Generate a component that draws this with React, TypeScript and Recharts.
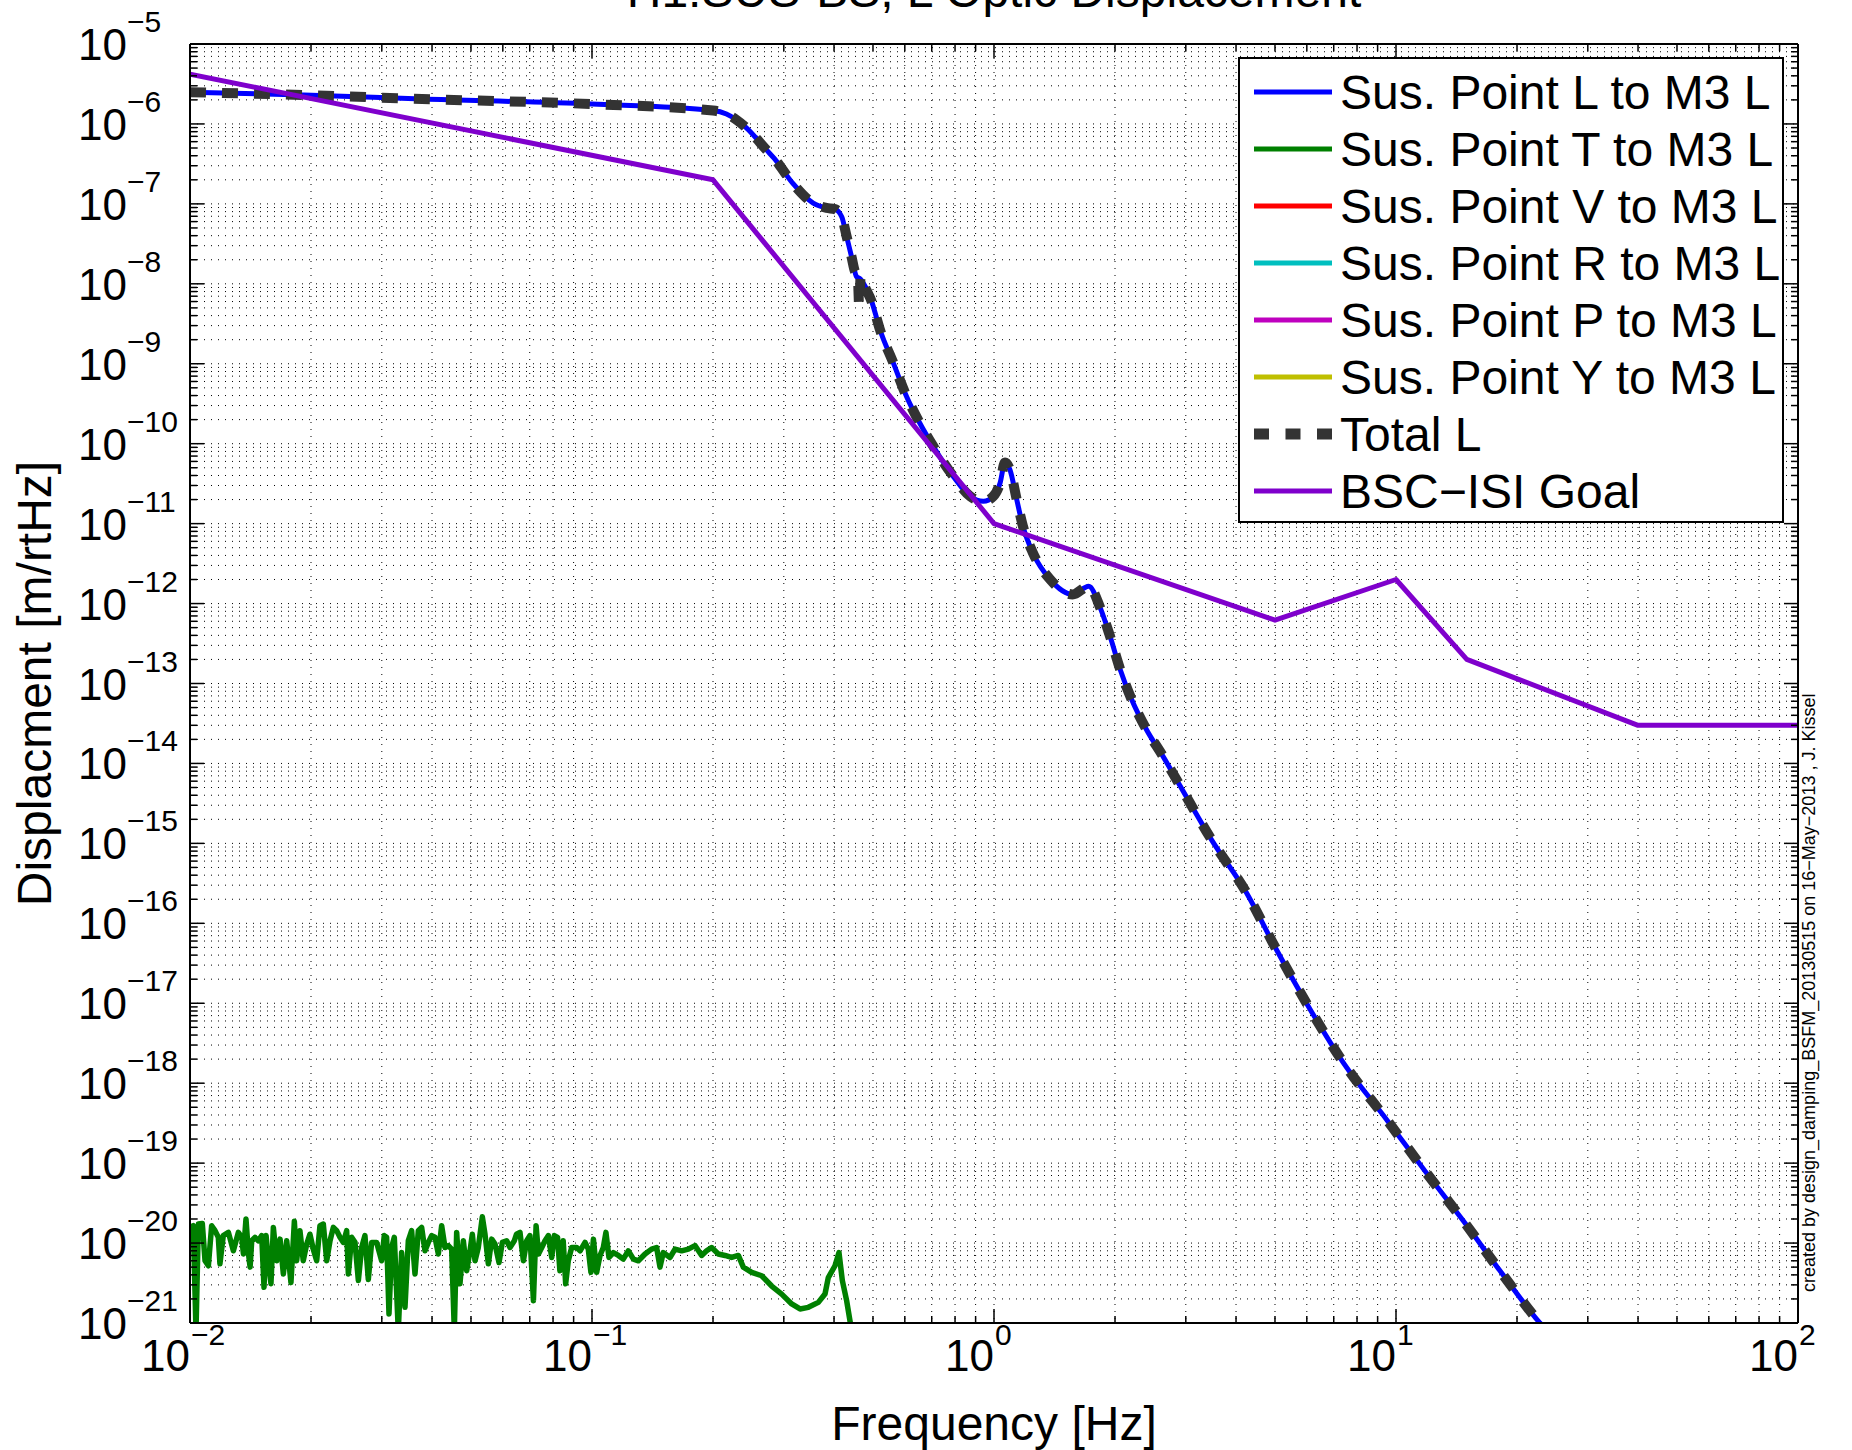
import React from 'react';
import { LineChart, Line, XAxis, YAxis, CartesianGrid, Legend, Label } from 'recharts';

const FONT = '"Liberation Sans", Arial, Helvetica, sans-serif';

// log axes: decades carrying a label, and the minor steps inside each decade
const xDecades = [-2, -1, 0, 1, 2];
const yDecades = [-21, -20, -19, -18, -17, -16, -15, -14, -13, -12, -11, -10, -9, -8, -7, -6, -5];
const minorSteps = [2, 3, 4, 5, 6, 7, 8, 9];

// Sus. Point L to M3 L
const susLFreq = [
  0.01, 0.0192, 0.0378, 0.1, 0.2, 0.216, 0.229, 0.241, 0.272, 0.284, 0.316, 0.355, 0.383, 0.402,
  0.418, 0.43, 0.442, 0.455, 0.465, 0.473, 0.498, 0.52, 0.562, 0.606, 0.654, 0.706, 0.792, 0.872,
  0.941, 0.996, 1.035, 1.065, 1.096, 1.139, 1.18, 1.25, 1.38, 1.57, 1.72, 1.84, 1.95, 2.06, 2.2,
  2.39, 2.64, 2.9, 3.48, 4.25, 5.04, 6.05, 7.4, 9.48, 11.8, 14.7, 18.2, 22.8, 25,
];
const susLDisp = [
  2.5e-6, 2.3e-6, 2.05e-6, 1.77e-6, 1.47e-6, 1.33e-6, 1.12e-6, 9.1e-7, 4.7e-7, 3.7e-7, 1.8e-7,
  1.02e-7, 8.9e-8, 8.6e-8, 6.9e-8, 3.9e-8, 2.2e-8, 1.23e-8, 1.15e-8, 1.02e-8, 5.7e-9, 2.7e-9,
  1.02e-9, 3.9e-10, 1.8e-10, 9.3e-11, 3.9e-11, 2.2e-11, 1.9e-11, 2.2e-11, 3.2e-11, 5.8e-11,
  4.7e-11, 2e-11, 9.3e-12, 4.3e-12, 2e-12, 1.3e-12, 1.65e-12, 8.7e-13, 3.7e-13, 1.5e-13, 6.3e-14,
  2.7e-14, 1.2e-14, 5.3e-15, 1.1e-15, 2.4e-16, 4.7e-17, 9.2e-18, 1.8e-18, 3.5e-19, 8e-20, 1.9e-20,
  4.4e-21, 1e-21, 6e-22,
];

// Sus. Point T to M3 L (noisy, mostly near 1e-20)
const susTFreq = [
  0.01, 0.01019, 0.01035, 0.01049, 0.01073, 0.0109, 0.01111, 0.01132, 0.01154, 0.01176, 0.01187,
  0.0121, 0.01246, 0.01282, 0.01319, 0.01345, 0.01358, 0.01378, 0.01397, 0.01411, 0.01424, 0.01451,
  0.01479, 0.01508, 0.01528, 0.01546, 0.01566, 0.0159, 0.01612, 0.01643, 0.01675, 0.01707, 0.0174,
  0.01783, 0.01818, 0.01842, 0.01877, 0.01913, 0.01951, 0.01988, 0.02026, 0.02066, 0.02105,
  0.02146, 0.02188, 0.0223, 0.02273, 0.02317, 0.02361, 0.02407, 0.02453, 0.02477, 0.02524, 0.02573,
  0.02623, 0.02673, 0.02724, 0.02777, 0.0283, 0.02912, 0.02997, 0.03043, 0.03084, 0.03126, 0.03174,
  0.03223, 0.03297, 0.03361, 0.03426, 0.03492, 0.03559, 0.03628, 0.03698, 0.03769, 0.03842,
  0.03916, 0.03991, 0.04068, 0.04147, 0.04227, 0.04308, 0.04391, 0.04476, 0.04545, 0.04606,
  0.04695, 0.04786, 0.04878, 0.04972, 0.05039, 0.05117, 0.05214, 0.05336, 0.05418, 0.05523, 0.0563,
  0.05738, 0.05871, 0.05984, 0.06134, 0.06252, 0.0641, 0.0649, 0.0662, 0.0675, 0.0688, 0.0701,
  0.0715, 0.0726, 0.0736, 0.075, 0.0764, 0.0779, 0.0794, 0.0806, 0.0821, 0.0832, 0.0848, 0.086,
  0.0873, 0.089, 0.0916, 0.0934, 0.0961, 0.0979, 0.0994, 0.1008, 0.1027, 0.1047, 0.1067, 0.1083,
  0.1102, 0.113, 0.1163, 0.1196, 0.1231, 0.1268, 0.1304, 0.1355, 0.1407, 0.1448, 0.1476, 0.1504,
  0.1563, 0.1609, 0.1671, 0.1736, 0.1804, 0.1874, 0.1928, 0.1984, 0.2062, 0.2142, 0.2225, 0.2312,
  0.2379, 0.2496, 0.2643, 0.2799, 0.2964, 0.3139, 0.3292, 0.3452, 0.3656, 0.3798, 0.3871, 0.4022,
  0.4115, 0.4195, 0.43, 0.4424,
];
const susTDisp = [
  1.57e-20, 1.65e-20, 8e-22, 1.73e-20, 1.76e-20, 6e-21, 5.2e-21, 1.65e-20, 1.43e-20, 1.18e-20,
  5.5e-21, 1.24e-20, 1.36e-20, 8e-21, 1.36e-20, 1.18e-20, 7.3e-21, 2e-20, 7.6e-21, 5e-21, 1.07e-20,
  1.18e-20, 1.07e-20, 1.24e-20, 2.8e-21, 1.24e-20, 6e-21, 3.1e-21, 1.57e-20, 6e-21, 1.12e-20,
  4.1e-21, 1.07e-20, 3.2e-21, 1.87e-20, 6e-21, 1.43e-20, 6e-21, 9.7e-21, 1.29e-20, 8.4e-21, 6e-21,
  1.65e-20, 1.73e-20, 6e-21, 1.07e-20, 1.57e-20, 1.43e-20, 1.18e-20, 1.02e-20, 1.43e-20, 4.1e-21,
  1.18e-20, 1.02e-20, 3.4e-21, 8.8e-21, 1.24e-20, 3.5e-21, 1.02e-20, 1.02e-20, 6e-21, 1.24e-20,
  1.18e-20, 1.3e-21, 8.8e-21, 1.18e-20, 8e-22, 7.6e-21, 1.57e-21, 1.07e-20, 1.43e-20, 4.1e-21,
  1.43e-20, 1.57e-20, 8e-21, 1.02e-20, 1.24e-20, 1.18e-20, 7.3e-21, 1.65e-20, 8.8e-21, 9.3e-21,
  8.4e-21, 8e-22, 1.36e-20, 3.1e-21, 1.07e-20, 4.5e-21, 8e-21, 1.29e-20, 6e-21, 8.8e-21, 2.13e-20,
  1.29e-20, 5.5e-21, 1.12e-20, 9.7e-21, 5.7e-21, 1.02e-20, 1.07e-20, 8.8e-21, 1.07e-20, 1.29e-20,
  1.36e-20, 6e-21, 1.07e-20, 1.24e-20, 1.9e-21, 1.65e-20, 7.3e-21, 8.8e-21, 1.07e-20, 1.24e-20,
  6.6e-21, 1.24e-20, 1.18e-20, 4.5e-21, 1.07e-20, 3.1e-21, 6e-21, 8.8e-21, 8.8e-21, 8e-21,
  1.02e-20, 8.4e-21, 4.3e-21, 1.12e-20, 4.3e-21, 7e-21, 8.8e-21, 1.36e-20, 6.6e-21, 7.6e-21, 7e-21,
  6.3e-21, 8e-21, 6.3e-21, 6e-21, 7.3e-21, 8.4e-21, 8.8e-21, 5e-21, 7.6e-21, 6.6e-21, 8.4e-21,
  8e-21, 8.4e-21, 9.3e-21, 7e-21, 8e-21, 8.8e-21, 7.3e-21, 7e-21, 6.6e-21, 7e-21, 5e-21, 4.3e-21,
  3.9e-21, 2.9e-21, 2.3e-21, 1.73e-21, 1.5e-21, 1.57e-21, 1.81e-21, 2.3e-21, 3.7e-21, 5.2e-21,
  7.6e-21, 3.4e-21, 1.9e-21, 8e-22,
];

// V, R, P, Y couplings stay below the plotted range
const susVFreq: number[] = [];
const susVDisp: number[] = [];
const susRFreq: number[] = [];
const susRDisp: number[] = [];
const susPFreq: number[] = [];
const susPDisp: number[] = [];
const susYFreq: number[] = [];
const susYDisp: number[] = [];

// Total L
const totalFreq = [
  0.01, 0.0192, 0.0378, 0.1, 0.2, 0.216, 0.229, 0.241, 0.272, 0.284, 0.316, 0.355, 0.383, 0.402,
  0.418, 0.43, 0.442, 0.452, 0.458, 0.462, 0.466, 0.473, 0.498, 0.52, 0.562, 0.606, 0.654, 0.706,
  0.792, 0.872, 0.941, 0.996, 1.035, 1.065, 1.096, 1.139, 1.18, 1.25, 1.38, 1.57, 1.72, 1.84, 1.95,
  2.06, 2.2, 2.39, 2.64, 2.9, 3.48, 4.25, 5.04, 6.05, 7.4, 9.48, 11.8, 14.7, 18.2, 22.8, 25,
];
const totalDisp = [
  2.5e-6, 2.3e-6, 2.05e-6, 1.77e-6, 1.47e-6, 1.33e-6, 1.12e-6, 9.1e-7, 4.7e-7, 3.7e-7, 1.8e-7,
  1.02e-7, 8.9e-8, 8.6e-8, 6.9e-8, 3.9e-8, 2.2e-8, 1.4e-8, 1.35e-8, 5.2e-9, 1.25e-8, 1.02e-8,
  5.7e-9, 2.7e-9, 1.02e-9, 3.9e-10, 1.8e-10, 9.3e-11, 3.9e-11, 2.2e-11, 1.9e-11, 2.2e-11, 3.2e-11,
  5.8e-11, 4.7e-11, 2e-11, 9.3e-12, 4.3e-12, 2e-12, 1.3e-12, 1.65e-12, 8.7e-13, 3.7e-13, 1.5e-13,
  6.3e-14, 2.7e-14, 1.2e-14, 5.3e-15, 1.1e-15, 2.4e-16, 4.7e-17, 9.2e-18, 1.8e-18, 3.5e-19, 8e-20,
  1.9e-20, 4.4e-21, 1e-21, 6e-22,
];

// BSC-ISI Goal
const goalFreq = [0.01, 0.2, 1, 5, 10, 15, 40, 100];
const goalDisp = [4.2e-6, 2e-7, 1e-11, 6.2e-13, 2e-12, 2e-13, 3e-14, 3e-14];

const toPoints = (freq: number[], disp: number[]) => freq.map((f, i) => ({ f, v: disp[i] }));

const buildLogTicks = (decades: number[]) => {
  const ticks: number[] = [];
  decades.forEach((d, i) => {
    ticks.push(Math.pow(10, d));
    if (i < decades.length - 1) minorSteps.forEach((m) => ticks.push(m * Math.pow(10, d)));
  });
  return ticks;
};

const xTicks = buildLogTicks(xDecades);
const yTicks = buildLogTicks(yDecades);

const series = [
  { id: 'L', name: 'Sus. Point L to M3 L', color: '#0000ff', width: 5, curve: 'monotone', data: toPoints(susLFreq, susLDisp) },
  { id: 'T', name: 'Sus. Point T to M3 L', color: '#008000', width: 5.5, curve: 'linear', data: toPoints(susTFreq, susTDisp) },
  { id: 'V', name: 'Sus. Point V to M3 L', color: '#ff0000', width: 5, curve: 'linear', data: toPoints(susVFreq, susVDisp) },
  { id: 'R', name: 'Sus. Point R to M3 L', color: '#00bfbf', width: 5, curve: 'linear', data: toPoints(susRFreq, susRDisp) },
  { id: 'P', name: 'Sus. Point P to M3 L', color: '#bf00bf', width: 5, curve: 'linear', data: toPoints(susPFreq, susPDisp) },
  { id: 'Y', name: 'Sus. Point Y to M3 L', color: '#bfbf00', width: 5, curve: 'linear', data: toPoints(susYFreq, susYDisp) },
  { id: 'total', name: 'Total L', color: '#333333', width: 10, dash: '16 16', curve: 'monotone', data: toPoints(totalFreq, totalDisp) },
  { id: 'goal', name: 'BSC\u2212ISI Goal', color: '#7f00cc', width: 5, curve: 'linear', data: toPoints(goalFreq, goalDisp) },
];

const expText = (e: number) => (e < 0 ? '\u2212' + Math.abs(e) : String(e));

function LogTick(props: any) {
  const { x, y, payload, side } = props;
  const lg = Math.log10(payload.value);
  const e = Math.round(lg);
  const major = Math.abs(lg - e) < 1e-6;
  const len = major ? 14 : 7;
  let tick;
  if (side === 'bottom') tick = <line x1={x} y1={y} x2={x} y2={y - len} />;
  else if (side === 'top') tick = <line x1={x} y1={y} x2={x} y2={y + len} />;
  else if (side === 'left') tick = <line x1={x} y1={y} x2={x + len} y2={y} />;
  else tick = <line x1={x} y1={y} x2={x - len} y2={y} />;

  return (
    <g>
      <g stroke="#000" strokeWidth={1.5}>{tick}</g>
      {major && side === 'bottom' && (
        <g fontFamily={FONT} fill="#000">
          <text x={x} y={y + 48} fontSize={44} textAnchor="end">10</text>
          <text x={x + 1} y={y + 22} fontSize={30}>{expText(e)}</text>
        </g>
      )}
      {major && side === 'left' && (
        <text x={x - 112} y={y + 16} fontFamily={FONT} fill="#000">
          <tspan fontSize={44}>10</tspan>
          <tspan fontSize={30} dy={-28}>{expText(e)}</tspan>
        </text>
      )}
    </g>
  );
}

function LegendBox() {
  return (
    <svg width={546} height={466} style={{ display: 'block' }}>
      <rect x={1} y={1} width={544} height={464} fill="#fff" stroke="#000" strokeWidth={2} />
      {series.map((s, i) => {
        const cy = 35 + 57 * i;
        return (
          <g key={s.id}>
            <line
              x1={16}
              x2={94}
              y1={cy}
              y2={cy}
              stroke={s.color}
              strokeWidth={s.dash ? 11 : 5}
              strokeDasharray={s.dash ? '15 16.5' : undefined}
            />
            <text x={102} y={cy + 17} fontSize={48} fontFamily={FONT} fill="#000">
              {s.name}
            </text>
          </g>
        );
      })}
    </svg>
  );
}

export default function App() {
  return (
    <div style={{ position: 'absolute', left: 0, top: 0, width: 1852, height: 1450, background: '#fff' }}>
      <LineChart width={1852} height={1450} margin={{ top: 43, right: 53, bottom: 27, left: 40 }}>
        <CartesianGrid stroke="#000" strokeWidth={1} strokeDasharray="1 6" />
        <XAxis
          dataKey="f"
          type="number"
          scale="log"
          domain={[0.01, 100]}
          allowDataOverflow
          ticks={xTicks}
          interval={0}
          height={100}
          tickSize={0}
          tickMargin={0}
          tickLine={false}
          axisLine={{ stroke: '#000', strokeWidth: 2 }}
          tick={<LogTick side="bottom" />}
        >
          <Label
            content={(p: any) => (
              <text
                x={p.viewBox.x + p.viewBox.width / 2}
                y={p.viewBox.y + 117}
                textAnchor="middle"
                fontSize={48}
                fontFamily={FONT}
                fill="#000"
              >
                Frequency [Hz]
              </text>
            )}
          />
        </XAxis>
        <XAxis
          xAxisId="top"
          orientation="top"
          dataKey="f"
          type="number"
          scale="log"
          domain={[0.01, 100]}
          allowDataOverflow
          ticks={xTicks}
          interval={0}
          height={1}
          tickSize={0}
          tickMargin={0}
          tickLine={false}
          axisLine={{ stroke: '#000', strokeWidth: 2 }}
          tick={<LogTick side="top" />}
        />
        <YAxis
          dataKey="v"
          type="number"
          scale="log"
          domain={[1e-21, 1e-5]}
          allowDataOverflow
          ticks={yTicks}
          interval={0}
          width={150}
          tickSize={0}
          tickMargin={0}
          tickLine={false}
          axisLine={{ stroke: '#000', strokeWidth: 2 }}
          tick={<LogTick side="left" />}
        >
          <Label
            content={(p: any) => {
              const cx = p.viewBox.x + 11;
              const cy = p.viewBox.y + p.viewBox.height / 2;
              return (
                <text
                  x={cx}
                  y={cy}
                  transform={`rotate(-90 ${cx} ${cy})`}
                  textAnchor="middle"
                  fontSize={48}
                  fontFamily={FONT}
                  fill="#000"
                >
                  Displacment [m/rtHz]
                </text>
              );
            }}
          />
        </YAxis>
        <YAxis
          yAxisId="right"
          orientation="right"
          dataKey="v"
          type="number"
          scale="log"
          domain={[1e-21, 1e-5]}
          allowDataOverflow
          ticks={yTicks}
          interval={0}
          width={1}
          tickSize={0}
          tickMargin={0}
          tickLine={false}
          axisLine={{ stroke: '#000', strokeWidth: 2 }}
          tick={<LogTick side="right" />}
        />
        {series.map((s) => (
          <Line
            key={s.id}
            name={s.name}
            data={s.data}
            dataKey="v"
            type={s.curve as any}
            stroke={s.color}
            strokeWidth={s.width}
            strokeDasharray={s.dash}
            strokeLinejoin="round"
            dot={false}
            activeDot={false}
            isAnimationActive={false}
          />
        ))}
        <Legend
          layout="vertical"
          align="center"
          verticalAlign="middle"
          wrapperStyle={{ left: 1238, top: 57, width: 546, height: 466 }}
          content={() => <LegendBox />}
        />
      </LineChart>
      <svg
        width={1852}
        height={1450}
        style={{ position: 'absolute', left: 0, top: 0, pointerEvents: 'none' }}
      >
        <text x={994} y={7} textAnchor="middle" fontSize={48} fontFamily={FONT} fill="#000">
          H1:SUS-BS, L Optic Displacement
        </text>
        <text
          x={1815}
          y={1292}
          transform="rotate(-90 1815 1292)"
          fontSize={18}
          fontFamily={FONT}
          fill="#000"
        >
          created by design_damping_BSFM_20130515 on 16{'\u2212'}May{'\u2212'}2013 , J. Kissel
        </text>
      </svg>
    </div>
  );
}
